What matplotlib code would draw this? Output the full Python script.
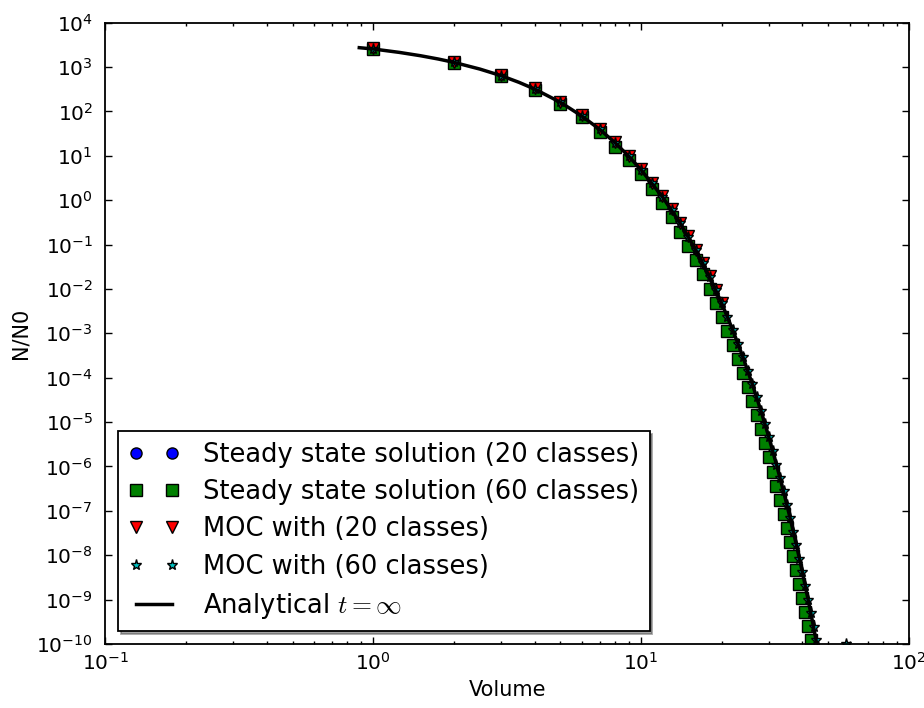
import matplotlib
matplotlib.use('Agg')
import matplotlib.pyplot as plt
from matplotlib.ticker import LogLocator, NullLocator

plt.rcParams['mathtext.fontset'] = 'cm'
plt.rcParams['axes.unicode_minus'] = False

# class volumes
vol_20 = list(range(1, 21))
vol_60 = list(range(1, 44))
vol_moc_60 = list(range(1, 46)) + [58]

# steady state solution, 20 classes
ss_20 = [2500, 1230, 617, 302, 148, 73, 35, 16.2, 7.9, 3.85,
         1.82, 0.86, 0.41, 0.195, 9.2e-2, 4.4e-2, 2.12e-2, 1.02e-2, 4.9e-3, 2.37e-3]

# steady state solution, 60 classes
ss_60 = [2500, 1230, 617, 302, 148, 73, 35, 16.2, 7.9, 3.85,
         1.82, 0.86, 0.41, 0.195, 9.2e-2, 4.4e-2, 2.12e-2, 1.02e-2, 4.9e-3, 2.37e-3,
         1.14e-3, 5.5e-4, 2.65e-4, 1.28e-4, 6.2e-5, 2.97e-5, 1.43e-5, 6.9e-6, 3.33e-6, 1.6e-6,
         7.7e-7, 3.7e-7, 1.8e-7, 8.6e-8, 4.2e-8, 2.0e-8, 9.7e-9, 4.7e-9, 2.25e-9, 1.08e-9,
         5.2e-10, 2.5e-10, 1.2e-10]

# method of characteristics, 20 classes
moc_20 = [2620, 1310, 660, 330, 165, 81.5, 40.7, 20.2, 10.0, 4.95,
          2.47, 1.24, 0.62, 0.31, 0.155, 7.7e-2, 3.86e-2, 1.94e-2, 9.7e-3, 4.85e-3]

# method of characteristics, 60 classes
moc_60 = [2550, 1275, 640, 320, 160, 79, 39.5, 19.6, 9.7, 4.8,
          2.4, 1.2, 0.6, 0.3, 0.15, 7.5e-2, 3.75e-2, 1.88e-2, 9.4e-3, 4.7e-3,
          2.35e-3, 1.17e-3, 5.8e-4, 2.9e-4, 1.45e-4, 7.2e-5, 3.6e-5, 1.8e-5, 9.0e-6, 4.5e-6,
          2.2e-6, 1.1e-6, 5.5e-7, 2.75e-7, 1.37e-7, 6.8e-8, 3.4e-8, 1.68e-8, 8.3e-9, 4.1e-9,
          2.0e-9, 1.0e-9, 4.9e-10, 2.45e-10, 1.2e-10, 1e-10]

# analytical solution at t = inf
vol_an = [0.887, 1, 1.25, 1.5, 1.75, 2, 2.5, 3, 3.5, 4, 5, 6, 7, 8, 9, 10, 12, 14, 16, 18,
          20, 22, 24, 26, 28, 30, 32, 34, 36, 38, 40, 42, 44, 46]
n_an = [2730, 2550, 2140, 1800, 1515, 1275, 900, 640, 452, 320, 160, 79, 39.5, 19.6, 9.7,
        4.8, 1.2, 0.3, 7.5e-2, 1.88e-2, 4.7e-3, 1.17e-3, 2.9e-4, 7.2e-5, 1.8e-5, 4.5e-6,
        1.1e-6, 2.75e-7, 6.8e-8, 1.68e-8, 4.1e-9, 1.0e-9, 2.45e-10, 5.8e-11]

fig = plt.figure(figsize=(9.24, 7.08), dpi=100)
ax = fig.add_axes([0.114, 0.0904, 0.8698, 0.8776])

mk = dict(linestyle='none', markersize=8, markeredgecolor='k', markeredgewidth=1)
ax.loglog(vol_20, ss_20, marker='o', color='b', label='Steady state solution (20 classes)', **mk)
ax.loglog(vol_60, ss_60, marker='s', color=(0, 0.5, 0), label='Steady state solution (60 classes)', **mk)
ax.loglog(vol_20, moc_20, marker='v', color='r', label='MOC with (20 classes)', **mk)
ax.loglog(vol_moc_60, moc_60, marker='*', color=(0, 0.75, 0.75), label='MOC with (60 classes)', **mk)
ax.loglog(vol_an, n_an, 'k-', lw=2.5, label=r'Analytical $t=\infty$')

ax.set_xlim(0.1, 100)
ax.set_ylim(1e-10, 1e4)
ax.yaxis.set_major_locator(LogLocator(base=10, numticks=30))
ax.yaxis.set_minor_locator(NullLocator())
ax.xaxis.set_minor_locator(LogLocator(base=10, subs=range(2, 10), numticks=30))

for sp in ax.spines.values():
    sp.set_linewidth(1.3)
ax.tick_params(which='both', direction='in', top=True, right=True, width=1)
ax.tick_params(which='major', length=5, labelsize=14.5)
ax.tick_params(which='minor', length=2.5)
ax.tick_params(axis='y', pad=9)
ax.tick_params(axis='x', pad=6)

ax.set_xlabel('Volume', fontsize=15)
ax.set_ylabel('N/N0', fontsize=15)

leg = ax.legend(loc='lower left', numpoints=2, shadow=True, fancybox=False,
                framealpha=1, fontsize=18.5, borderpad=0.4, labelspacing=0.44,
                handlelength=2.0, handletextpad=0.9, borderaxespad=0.5)
leg.get_frame().set_edgecolor('k')
leg.get_frame().set_linewidth(1.3)

fig.savefig('out.png', dpi=100)
